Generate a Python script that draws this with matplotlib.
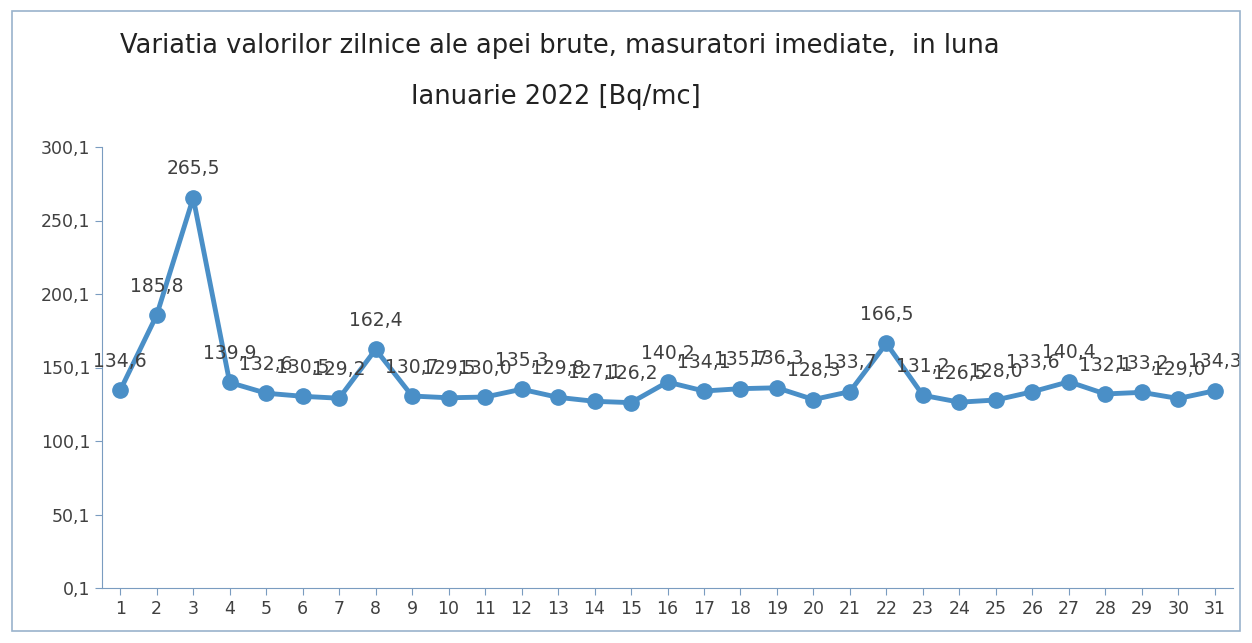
import matplotlib
matplotlib.use('Agg')
import matplotlib.pyplot as plt

zile = list(range(1, 32))
valori = [134.6, 185.8, 265.5, 139.9, 132.6, 130.5, 129.2, 162.4, 130.7, 129.5,
          130.0, 135.3, 129.8, 127.1, 126.2, 140.2, 134.1, 135.7, 136.3, 128.3,
          133.7, 166.5, 131.2, 126.5, 128.0, 133.6, 140.4, 132.1, 133.2, 129.0,
          134.3]
yticks = [0.1, 50.1, 100.1, 150.1, 200.1, 250.1, 300.1]

albastru = '#4a8fc7'
gri = '#404040'

fig = plt.figure(figsize=(12.52, 6.43), dpi=100)
# chenarul graficului
fig.patches.append(plt.Rectangle((12/1252, 12/643), 1228/1252, 620/643,
                                 transform=fig.transFigure, fill=False,
                                 edgecolor='#9ab3cc', linewidth=1.2))

ax = fig.add_axes([102/1252, 55/643, 1131/1252, 441/643])
ax.plot(zile, valori, color=albastru, linewidth=3.5, marker='o',
        markersize=11, markerfacecolor=albastru, markeredgecolor=albastru)

for z, v in zip(zile, valori):
    ax.annotate(('%.1f' % v).replace('.', ','), (z, v), xytext=(0, 14),
                textcoords='offset points', ha='center', va='bottom',
                fontsize=13.5, color=gri)

ax.set_xlim(0.5, 31.5)
ax.set_ylim(0.1, 300.1)
ax.set_xticks(zile)
ax.set_xticklabels([str(z) for z in zile])
ax.set_yticks(yticks)
ax.set_yticklabels([('%.1f' % t).replace('.', ',') for t in yticks])
ax.tick_params(axis='both', labelsize=12.5, labelcolor=gri, color='#7a9cc0',
               length=5)
for s in ['top', 'right']:
    ax.spines[s].set_visible(False)
for s in ['left', 'bottom']:
    ax.spines[s].set_color('#7a9cc0')

fig.text(560/1252, 1 - 46/643,
         'Variatia valorilor zilnice ale apei brute, masuratori imediate,  in luna',
         ha='center', va='center', fontsize=18.5, color='#222222')
fig.text(556/1252, 1 - 97/643, 'Ianuarie 2022 [Bq/mc]',
         ha='center', va='center', fontsize=18.5, color='#222222')

fig.savefig('out.png', dpi=100)
